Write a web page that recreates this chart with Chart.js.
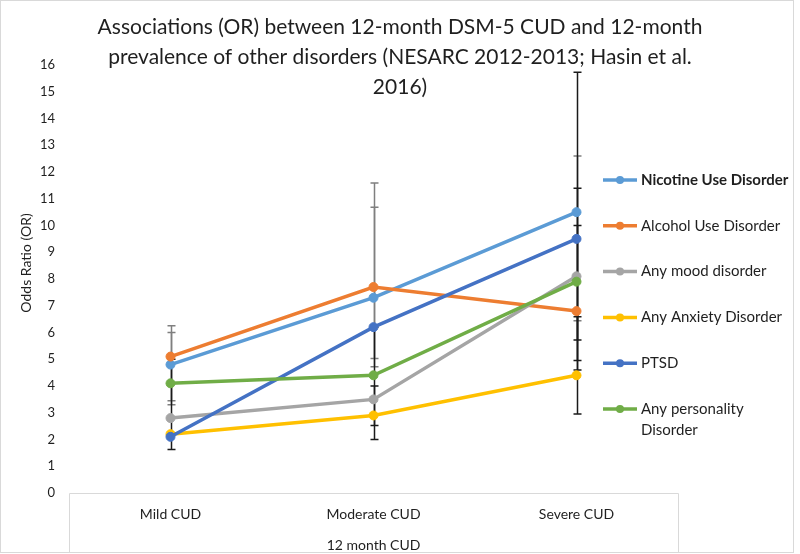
<!DOCTYPE html>
<html>
<head>
<meta charset="utf-8">
<script src="https://cdn.jsdelivr.net/npm/chart.js@4/dist/chart.umd.min.js"></script>
<style>
  html, body { margin: 0; padding: 0; background: #fff; }
  #wrap { width: 800px; height: 554px; }
</style>
</head>
<body>
<div id="wrap"><canvas id="orChart" width="800" height="554"></canvas></div>
<script>
// Categorias y series
const categories = ['Mild CUD', 'Moderate CUD', 'Severe CUD'];
const seriesNames = ['Nicotine Use Disorder', 'Alcohol Use Disorder', 'Any mood disorder',
  'Any Anxiety Disorder', 'PTSD', 'Any personality Disorder'];
const seriesColors = ['#5B9BD5', '#ED7D31', '#A5A5A5', '#FFC000', '#4472C4', '#70AD47'];

const nicotine = [4.8, 7.3, 10.5];
const alcohol = [5.1, 7.7, 6.8];
const mood = [2.8, 3.5, 8.1];
const anxiety = [2.2, 2.9, 4.4];
const ptsd = [2.1, 6.2, 9.5];
const personality = [4.1, 4.4, 7.9];

// Intervalos (barras de error)
const nicotineLow = [3.45, 5.03, 6.44];
const nicotineHigh = [6.0, 10.68, 12.6];
const alcoholLow = [3.3, 4.72, null];
const alcoholHigh = [6.25, 11.59, null];
const moodLow = [null, 2.0, 4.95];
const moodHigh = [null, 6.2, 11.39];
const anxietyLow = [null, 2.52, 2.95];
const anxietyHigh = [null, 4.0, 6.59];
const ptsdLow = [1.63, null, 4.6];
const ptsdHigh = [5.0, null, 15.73];
const personalityLow = [null, null, 5.72];
const personalityHigh = [null, null, 10.0];

const titleLines = ['Associations (OR) between 12-month DSM-5 CUD and 12-month',
  'prevalence of other disorders (NESARC 2012-2013; Hasin et al.',
  '2016)'];
const yTitle = 'Odds Ratio (OR)';
const xTitle = '12 month CUD';
const yTicks = { min: 0, max: 16, step: 1 };

const FONT = 'Lato, "Open Sans", sans-serif';
const TEXT = '#1f1f1f';

const values = [nicotine, alcohol, mood, anxiety, ptsd, personality];
const lows = [nicotineLow, alcoholLow, moodLow, anxietyLow, ptsdLow, personalityLow];
const highs = [nicotineHigh, alcoholHigh, moodHigh, anxietyHigh, ptsdHigh, personalityHigh];
const errColors = ['#7f7f7f', '#7f7f7f', '#1a1a1a', '#1a1a1a', '#1a1a1a', '#1a1a1a'];

const datasets = values.map((v, i) => ({
  label: seriesNames[i],
  data: v,
  borderColor: seriesColors[i],
  backgroundColor: seriesColors[i],
  pointBackgroundColor: seriesColors[i],
  pointBorderColor: seriesColors[i],
  borderWidth: 3.5,
  pointRadius: 4.5,
  pointBorderWidth: 1,
  tension: 0,
  order: values.length - i
}));

const extras = {
  id: 'extras',
  beforeDraw(chart) {
    const ctx = chart.ctx;
    const a = chart.chartArea;
    ctx.save();
    ctx.strokeStyle = '#d9d9d9';
    ctx.lineWidth = 1;
    // marco exterior
    ctx.strokeRect(0.5, 0.5, 793, 552);
    // caja del eje x
    ctx.beginPath();
    ctx.moveTo(a.left + 0.5, 552);
    ctx.lineTo(a.left + 0.5, a.bottom + 0.5);
    ctx.lineTo(a.right + 0.5, a.bottom + 0.5);
    ctx.lineTo(a.right + 0.5, 552);
    ctx.stroke();
    ctx.restore();
  },
  beforeDatasetsDraw(chart) {
    const ctx = chart.ctx;
    const x = chart.scales.x, y = chart.scales.y;
    ctx.save();
    ctx.lineWidth = 1.5;
    lows.forEach((lo, i) => {
      ctx.strokeStyle = errColors[i];
      lo.forEach((l, j) => {
        const h = highs[i][j];
        if (l == null || h == null) return;
        const px = Math.round(x.getPixelForValue(j)) + 0.5;
        const y1 = y.getPixelForValue(l), y2 = y.getPixelForValue(h);
        ctx.beginPath();
        ctx.moveTo(px, y1); ctx.lineTo(px, y2);
        ctx.moveTo(px - 4, y1); ctx.lineTo(px + 4, y1);
        ctx.moveTo(px - 4, y2); ctx.lineTo(px + 4, y2);
        ctx.stroke();
      });
    });
    ctx.restore();
  },
  afterDraw(chart) {
    const ctx = chart.ctx;
    ctx.save();
    // titulo
    ctx.fillStyle = TEXT;
    ctx.font = '21px ' + FONT;
    ctx.textAlign = 'center';
    ctx.textBaseline = 'middle';
    titleLines.forEach((t, i) => ctx.fillText(t, 400, 27 + i * 30));
    // titulo eje y
    ctx.font = '14px ' + FONT;
    ctx.translate(26, 263);
    ctx.rotate(-Math.PI / 2);
    ctx.fillText(yTitle, 0, 0);
    ctx.restore();

    // leyenda
    ctx.save();
    ctx.textAlign = 'left';
    ctx.textBaseline = 'middle';
    seriesNames.forEach((name, i) => {
      const cy = 180 + i * 45.8;
      ctx.strokeStyle = seriesColors[i];
      ctx.fillStyle = seriesColors[i];
      ctx.lineWidth = 3.5;
      ctx.beginPath();
      ctx.moveTo(603, cy); ctx.lineTo(637, cy);
      ctx.stroke();
      ctx.beginPath();
      ctx.arc(620, cy, 4, 0, Math.PI * 2);
      ctx.fill();
      ctx.fillStyle = TEXT;
      ctx.font = (i === 0 ? 'bold ' : '') + '15px ' + FONT;
      if (name === 'Any personality Disorder') {
        ctx.fillText('Any personality', 641, cy);
        ctx.fillText('Disorder', 641, cy + 21);
      } else {
        ctx.fillText(name, 641, cy);
      }
    });
    ctx.restore();
  }
};

new Chart(document.getElementById('orChart'), {
  type: 'line',
  data: { labels: categories, datasets: datasets },
  plugins: [extras],
  options: {
    responsive: false,
    animation: false,
    layout: { padding: { top: 65, right: 122, left: 0, bottom: 0 } },
    plugins: {
      legend: { display: false },
      title: { display: false },
      tooltip: { enabled: false }
    },
    scales: {
      x: {
        offset: true,
        grid: { display: false, drawTicks: false },
        border: { display: false },
        ticks: { color: TEXT, font: { family: FONT, size: 14 }, padding: 13 },
        title: { display: true, text: xTitle, color: TEXT,
          font: { family: FONT, size: 14 }, padding: { top: 0, bottom: 0 } },
        afterFit(scale) { scale.height = 61; }
      },
      y: {
        min: yTicks.min, max: yTicks.max,
        grid: { display: false, drawTicks: false },
        border: { display: false },
        ticks: { stepSize: yTicks.step, color: TEXT, font: { family: FONT, size: 13 }, padding: 14 },
        afterFit(scale) { scale.width = 69; }
      }
    }
  }
});
</script>
</body>
</html>
